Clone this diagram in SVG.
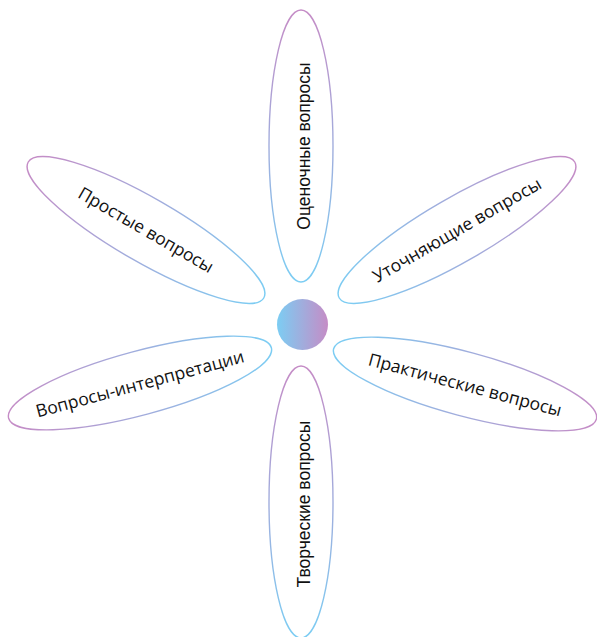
<svg xmlns="http://www.w3.org/2000/svg" width="597" height="637" viewBox="0 0 597 637">
  <defs>
    <linearGradient id="petalGrad" x1="0" y1="0" x2="1" y2="0">
      <stop offset="0" stop-color="#c58cc6"/>
      <stop offset="1" stop-color="#7ccdf3"/>
    </linearGradient>
    <linearGradient id="coreGrad" x1="0" y1="0" x2="1" y2="0">
      <stop offset="0" stop-color="#7ccdf3"/>
      <stop offset="1" stop-color="#c58cc6"/>
    </linearGradient>
  </defs>
  <style>
    .petal { fill: none; stroke: url(#petalGrad); stroke-width: 1.4; }
    .lbl { fill: #111; font-family: "Open Sans", "Noto Sans", sans-serif; font-size: 17.5px; text-anchor: middle; }
    .lblv { fill: #111; font-family: "Liberation Sans", Arial, sans-serif; font-size: 17.5px; text-anchor: middle; }
  </style>
  <rect width="597" height="637" fill="#ffffff"/>

  <g id="petal-top">
    <ellipse class="petal" cx="0" cy="0" rx="136" ry="32" transform="translate(301,146) rotate(90)"/>
    <text class="lblv" transform="translate(309.5,146) rotate(-90)">Оценочные вопросы</text>
  </g>

  <g id="petal-upper-right">
    <ellipse class="petal" cx="0" cy="0" rx="136" ry="32" transform="translate(457,230) rotate(150)"/>
    <text class="lbl" transform="translate(457,230) rotate(-30)" y="6">Уточняющие вопросы</text>
  </g>

  <g id="petal-upper-left">
    <ellipse class="petal" cx="0" cy="0" rx="136" ry="32" transform="translate(146,230) rotate(30)"/>
    <text class="lbl" transform="translate(146,230) rotate(30)" y="6">Простые вопросы</text>
  </g>

  <g id="petal-lower-left">
    <ellipse class="petal" cx="0" cy="0" rx="136" ry="32" transform="translate(140,383) rotate(-15)"/>
    <text class="lbl" transform="translate(140,384) rotate(-15)" y="6">Вопросы-интерпретации</text>
  </g>

  <g id="petal-lower-right">
    <ellipse class="petal" cx="0" cy="0" rx="136" ry="32" transform="translate(465,384) rotate(195)"/>
    <text class="lbl" transform="translate(465,385) rotate(15)" y="6">Практические вопросы</text>
  </g>

  <g id="petal-bottom">
    <ellipse class="petal" cx="0" cy="0" rx="136" ry="32" transform="translate(301,502) rotate(90)"/>
    <text class="lblv" transform="translate(309.5,504) rotate(-90)">Творческие вопросы</text>
  </g>

  <g id="core">
    <circle cx="302.5" cy="324.5" r="25.5" fill="url(#coreGrad)"/>
  </g>
</svg>
